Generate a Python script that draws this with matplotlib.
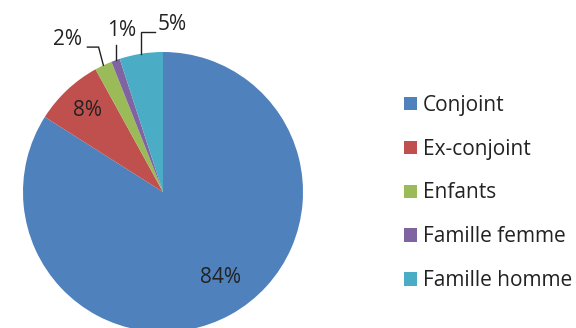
import matplotlib
matplotlib.use("Agg")
import matplotlib.pyplot as plt
import numpy as np
from matplotlib.patches import Patch

plt.rcParams['font.family'] = ['Open Sans', 'DejaVu Sans']

categories = ["Conjoint", "Ex-conjoint", "Enfants", "Famille femme", "Famille homme"]
values = [84, 8, 2, 1, 5]
colors = ["#4F81BD", "#C0504D", "#9BBB59", "#8064A2", "#4BACC6"]

W, H = 576, 328
fig = plt.figure(figsize=(W / 100, H / 100), dpi=100)
cx, cy, r = 163, 192, 140
ax = fig.add_axes([(cx - r) / W, (H - cy - r) / H, 2 * r / W, 2 * r / H])

wedges, _ = ax.pie(values, colors=colors, startangle=90, counterclock=False,
                   radius=1.0, wedgeprops=dict(linewidth=0))
ax.set_xlim(-1, 1)
ax.set_ylim(-1, 1)
ax.set_aspect('equal')
ax.axis('off')

fs = 15
# label placement: (text x, text y) in data units, per slice
inside = {0: (0.414, -0.614), 1: (-0.54, 0.58)}
outside = {2: (-0.68, 1.09, 'h'), 3: (-0.296, 1.157, 'v'), 4: (0.068, 1.193, 'h')}

for i, w in enumerate(wedges):
    txt = f"{values[i]}%"
    if i in inside:
        x, y = inside[i]
        ax.text(x, y, txt, ha='center', va='center', fontsize=fs, color='#222222')
    else:
        mid = np.deg2rad((w.theta1 + w.theta2) / 2)
        ax0, ay0 = np.cos(mid), np.sin(mid)
        tx, ty, kind = outside[i]
        ax.text(tx, ty, txt, ha='center', va='center', fontsize=fs, color='#222222', clip_on=False)
        if kind == 'h':
            yl = ty - 0.055 if i == 2 else ty - 0.05
            if i == 2:
                x_start = tx + 0.14
                xs = [x_start, x_start + 0.08, ax0]
                ys = [yl, yl, ay0]
            else:
                x_start = tx - 0.125
                xs = [x_start, ax0, ax0]
                ys = [yl, yl, ay0]
        else:
            xs = [ax0, ax0]
            ys = [ty - 0.107, ay0]
        ax.plot(xs, ys, color='#222222', lw=1.0, clip_on=False, solid_joinstyle='miter')

handles = [Patch(facecolor=c, edgecolor='none') for c in colors]
leg = fig.legend(handles, categories, loc='center left', bbox_to_anchor=(396 / W, (H - 193) / H),
                 frameon=False, fontsize=15, labelspacing=1.1, handlelength=0.6,
                 handleheight=0.6, handletextpad=0.3, borderaxespad=0)
for t in leg.get_texts():
    t.set_color('#222222')

fig.savefig("out.png", dpi=100)
